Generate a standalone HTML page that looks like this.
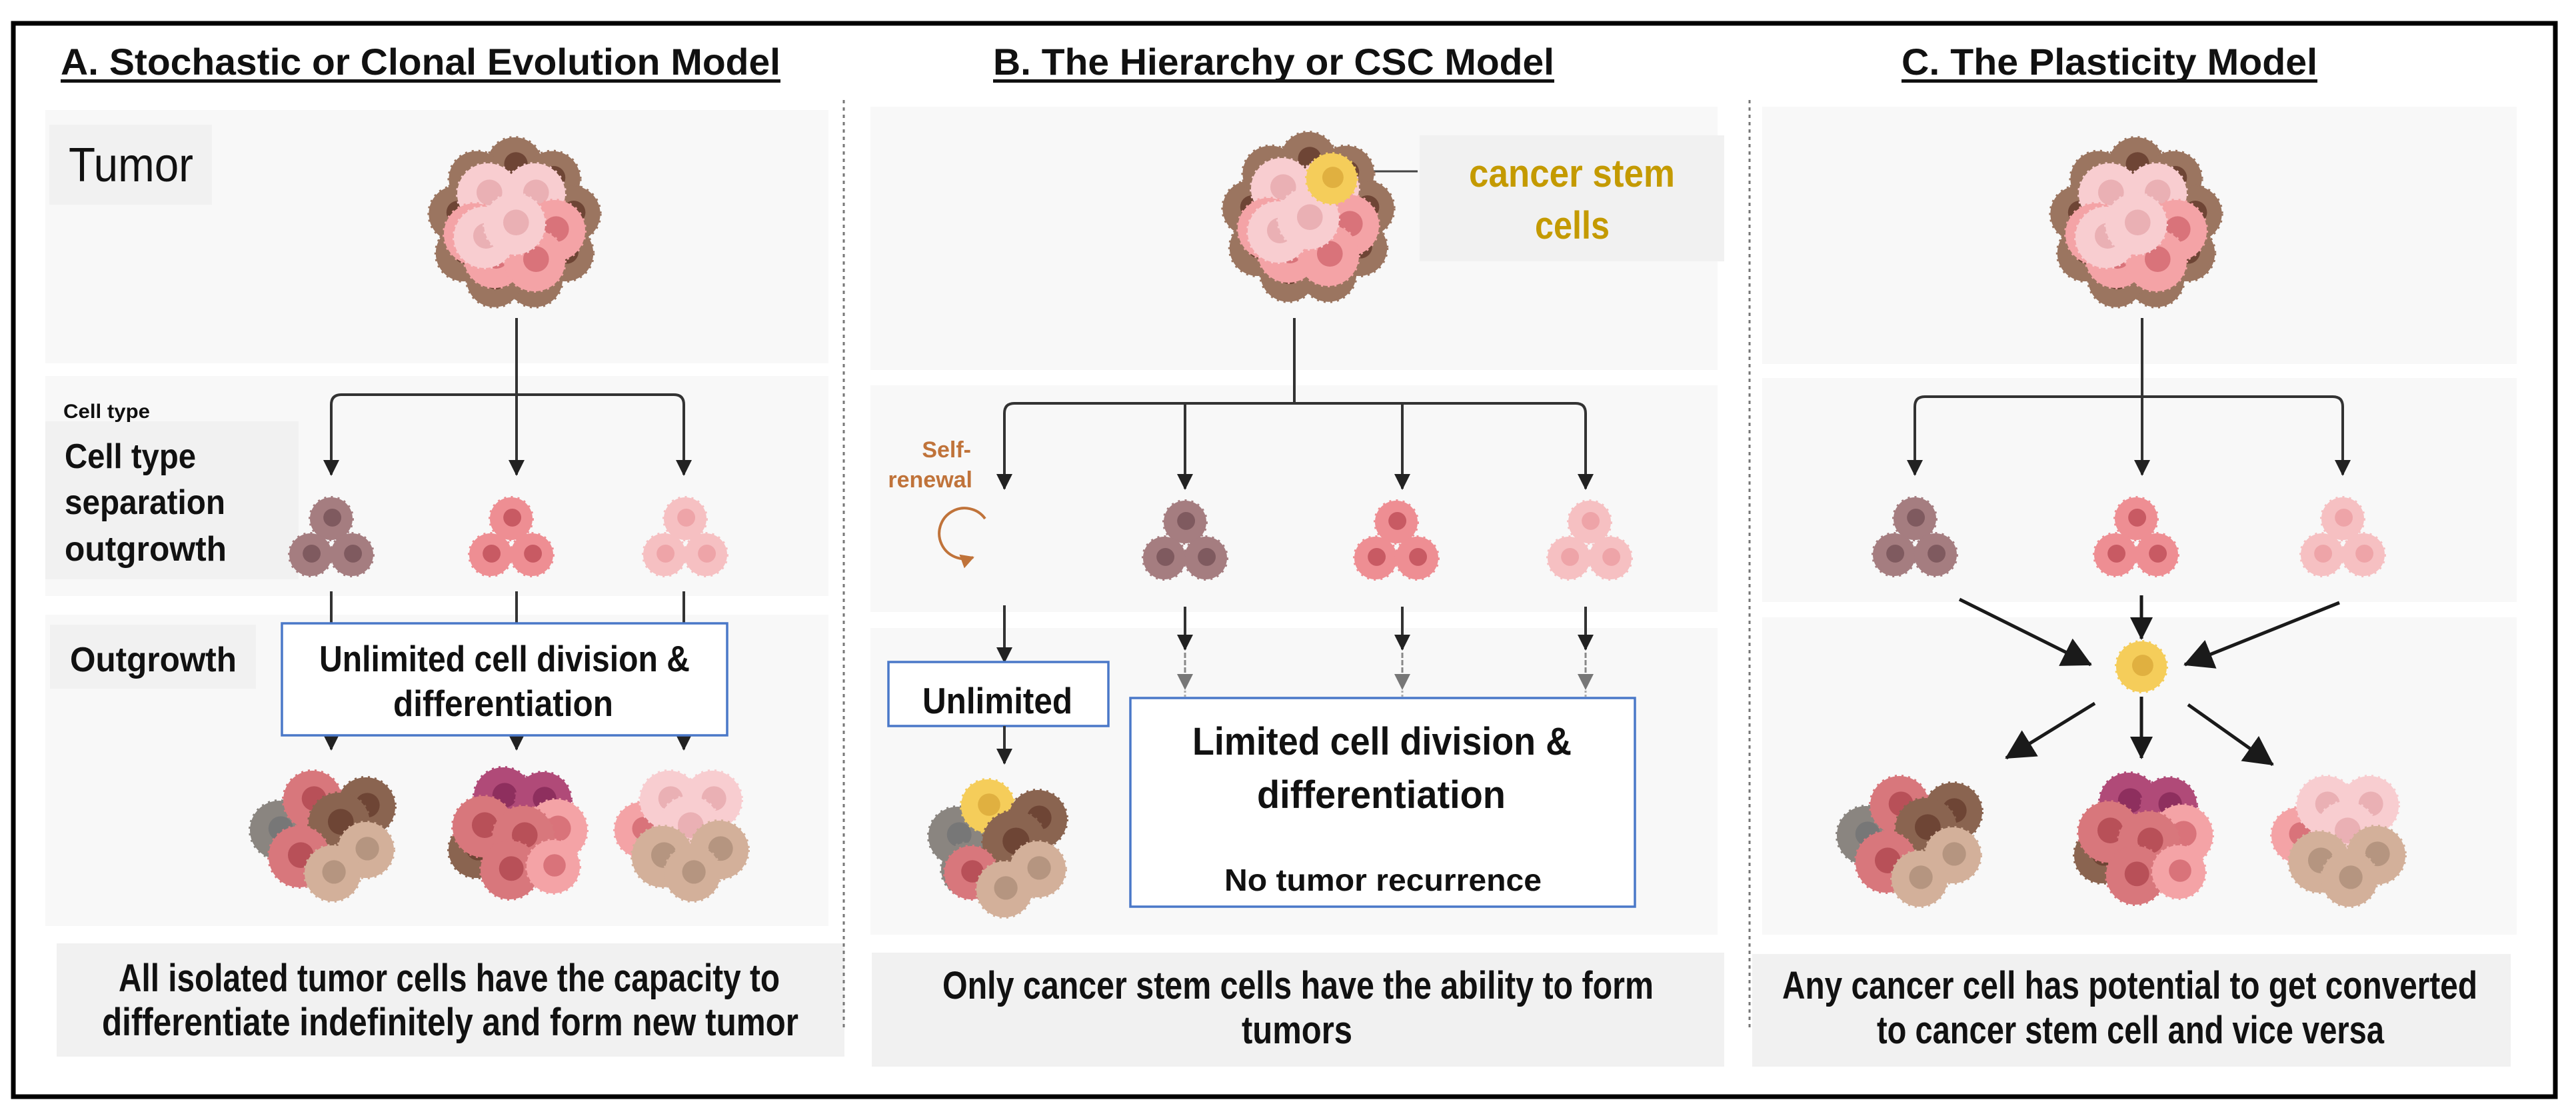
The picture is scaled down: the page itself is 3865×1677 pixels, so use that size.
<!DOCTYPE html>
<html><head><meta charset="utf-8">
<style>
html,body{margin:0;padding:0;background:#fff;}
svg{display:block;}
text{font-family:"Liberation Sans",sans-serif;font-weight:bold;fill:#111;}
</style></head>
<body>
<svg id="s" width="3865" height="1677" viewBox="0 0 3865 1677" xmlns="http://www.w3.org/2000/svg">
<defs>
<marker id="ah" markerUnits="userSpaceOnUse" markerWidth="26" markerHeight="24" refX="22" refY="12" orient="auto"><path d="M0,0 L24,12 L0,24 z" fill="#222"/></marker>
<marker id="ahg" markerUnits="userSpaceOnUse" markerWidth="26" markerHeight="24" refX="22" refY="12" orient="auto"><path d="M0,0 L24,12 L0,24 z" fill="#777"/></marker>
<marker id="big" markerUnits="userSpaceOnUse" markerWidth="46" markerHeight="46" refX="42" refY="23" orient="auto"><path d="M0,0 L44,23 L0,46 z" fill="#1a1a1a"/></marker>
<marker id="mid" markerUnits="userSpaceOnUse" markerWidth="36" markerHeight="34" refX="32" refY="17" orient="auto"><path d="M0,0 L34,17 L0,34 z" fill="#1a1a1a"/></marker>
<marker id="or" markerUnits="userSpaceOnUse" markerWidth="22" markerHeight="22" refX="18" refY="11" orient="auto"><path d="M0,0 L20,11 L0,22 z" fill="#c0733a"/></marker>
</defs>
<rect x="0" y="0" width="3865" height="1677" fill="#fff"/>
<rect x="20" y="35" width="3814" height="1610" fill="none" stroke="#000" stroke-width="7"/>

<rect x="68" y="165" width="1175" height="380" fill="#f8f8f8"/>
<rect x="68" y="564" width="1175" height="330" fill="#f8f8f8"/>
<rect x="68" y="922" width="1175" height="467" fill="#f8f8f8"/>
<rect x="85" y="1415" width="1182" height="170" fill="#f1f1f1"/>
<rect x="74" y="187" width="244" height="120" fill="#f1f1f1"/>
<rect x="68" y="632" width="380" height="237" fill="#f1f1f1"/>
<rect x="75" y="937" width="309" height="96" fill="#f1f1f1"/>

<rect x="1306" y="160" width="1271" height="395" fill="#f8f8f8"/>
<rect x="1306" y="578" width="1271" height="340" fill="#f8f8f8"/>
<rect x="1306" y="942" width="1271" height="460" fill="#f8f8f8"/>
<rect x="1308" y="1429" width="1279" height="171" fill="#f1f1f1"/>
<rect x="2130" y="203" width="457" height="189" fill="#f1f1f1"/>

<rect x="2644" y="160" width="1132" height="386" fill="#f8f8f8"/>
<rect x="2644" y="567" width="1132" height="336" fill="#f8f8f8"/>
<rect x="2644" y="926" width="1132" height="476" fill="#f8f8f8"/>
<rect x="2629" y="1431" width="1138" height="169" fill="#f1f1f1"/>

<line x1="1266" y1="150" x2="1266" y2="1541" stroke="#777" stroke-width="3" stroke-dasharray="5 6"/>
<line x1="2625" y1="150" x2="2625" y2="1541" stroke="#777" stroke-width="3" stroke-dasharray="5 6"/>

<text x="91" y="112" font-size="56" textLength="1080" lengthAdjust="spacingAndGlyphs">A. Stochastic or Clonal Evolution Model</text>
<rect x="91" y="119" width="1080" height="5" fill="#111"/>
<text x="1490" y="112" font-size="56" textLength="842" lengthAdjust="spacingAndGlyphs">B. The Hierarchy or CSC Model</text>
<rect x="1490" y="119" width="842" height="5" fill="#111"/>
<text x="2853" y="112" font-size="56" textLength="624" lengthAdjust="spacingAndGlyphs">C. The Plasticity Model</text>
<rect x="2853" y="119" width="624" height="5" fill="#111"/>

<text x="103" y="272" font-size="72" style="font-weight:normal" textLength="187" lengthAdjust="spacingAndGlyphs">Tumor</text>
<text x="95" y="627" font-size="30" textLength="130" lengthAdjust="spacingAndGlyphs">Cell type</text>
<text x="97" y="702" font-size="52" textLength="197" lengthAdjust="spacingAndGlyphs">Cell type</text>
<text x="97" y="771" font-size="52" textLength="241" lengthAdjust="spacingAndGlyphs">separation</text>
<text x="97" y="841" font-size="52" textLength="243" lengthAdjust="spacingAndGlyphs">outgrowth</text>
<text x="105" y="1007" font-size="52" textLength="250" lengthAdjust="spacingAndGlyphs">Outgrowth</text>

<line x1="775" y1="477" x2="775" y2="712" stroke="#333" stroke-width="4" marker-end="url(#ah)"/>
<path d="M497,712 V607 Q497,592 512,592 H1011 Q1026,592 1026,607 V712" fill="none" stroke="#333" stroke-width="4"/>
<line x1="497" y1="700" x2="497" y2="712" stroke="#333" stroke-width="4" marker-end="url(#ah)"/>
<line x1="1026" y1="700" x2="1026" y2="712" stroke="#333" stroke-width="4" marker-end="url(#ah)"/>
<line x1="497" y1="887" x2="497" y2="935" stroke="#333" stroke-width="4"/>
<line x1="775" y1="887" x2="775" y2="935" stroke="#333" stroke-width="4"/>
<line x1="1026" y1="887" x2="1026" y2="935" stroke="#333" stroke-width="4"/>
<line x1="497" y1="1103" x2="497" y2="1124" stroke="#333" stroke-width="4" marker-end="url(#ah)"/>
<line x1="775" y1="1103" x2="775" y2="1124" stroke="#333" stroke-width="4" marker-end="url(#ah)"/>
<line x1="1026" y1="1103" x2="1026" y2="1124" stroke="#333" stroke-width="4" marker-end="url(#ah)"/>
<rect x="423" y="935" width="668" height="168" fill="#fff" stroke="#4a78c8" stroke-width="3.5"/>
<text x="479" y="1007" font-size="55" textLength="556" lengthAdjust="spacingAndGlyphs">Unlimited cell division &amp;</text>
<text x="590" y="1074" font-size="55" textLength="330" lengthAdjust="spacingAndGlyphs">differentiation</text>
<text x="178" y="1487" font-size="58" textLength="992" lengthAdjust="spacingAndGlyphs">All isolated tumor cells have the capacity to</text>
<text x="153" y="1553" font-size="58" textLength="1045" lengthAdjust="spacingAndGlyphs">differentiate indefinitely and form new tumor</text>

<line x1="2012" y1="257" x2="2127" y2="257" stroke="#444" stroke-width="3"/>
<line x1="1942" y1="477" x2="1942" y2="605" stroke="#333" stroke-width="4"/>
<path d="M1507,733 V620 Q1507,605 1522,605 H2364 Q2379,605 2379,620 V733" fill="none" stroke="#333" stroke-width="4"/>
<line x1="1507" y1="720" x2="1507" y2="733" stroke="#333" stroke-width="4" marker-end="url(#ah)"/>
<line x1="1778" y1="605" x2="1778" y2="733" stroke="#333" stroke-width="4" marker-end="url(#ah)"/>
<line x1="2104" y1="605" x2="2104" y2="733" stroke="#333" stroke-width="4" marker-end="url(#ah)"/>
<line x1="2379" y1="720" x2="2379" y2="733" stroke="#333" stroke-width="4" marker-end="url(#ah)"/>
<text x="1457" y="686" font-size="34" style="fill:#c0733a" text-anchor="end">Self-</text>
<text x="1459" y="731" font-size="34" style="fill:#c0733a" text-anchor="end">renewal</text>
<path d="M1478,778 A38,38 0 1 0 1460,836" fill="none" stroke="#c0733a" stroke-width="4" marker-end="url(#or)"/>
<line x1="1507" y1="908" x2="1507" y2="993" stroke="#333" stroke-width="4" marker-end="url(#ah)"/>
<rect x="1333" y="993" width="330" height="96" fill="#fff" stroke="#4a78c8" stroke-width="3.5"/>
<text x="1384" y="1070" font-size="55" textLength="225" lengthAdjust="spacingAndGlyphs">Unlimited</text>
<line x1="1507" y1="1089" x2="1507" y2="1145" stroke="#333" stroke-width="4" marker-end="url(#ah)"/>
<g id="bcols"></g>
<rect x="1696" y="1047" width="757" height="313" fill="#fff" stroke="#4a78c8" stroke-width="3.5"/>
<text x="1789" y="1132" font-size="58" textLength="569" lengthAdjust="spacingAndGlyphs">Limited cell division &amp;</text>
<text x="1886" y="1212" font-size="58" textLength="373" lengthAdjust="spacingAndGlyphs">differentiation</text>
<text x="1837" y="1336" font-size="46" textLength="476" lengthAdjust="spacingAndGlyphs">No tumor recurrence</text>
<text x="2204" y="280" font-size="58" style="fill:#c49a00" textLength="309" lengthAdjust="spacingAndGlyphs">cancer stem</text>
<text x="2303" y="358" font-size="58" style="fill:#c49a00" textLength="112" lengthAdjust="spacingAndGlyphs">cells</text>
<text x="1414" y="1498" font-size="58" textLength="1067" lengthAdjust="spacingAndGlyphs">Only  cancer stem cells have the ability to form</text>
<text x="1863" y="1565" font-size="58" textLength="166" lengthAdjust="spacingAndGlyphs">tumors</text>

<line x1="3214" y1="477" x2="3214" y2="712" stroke="#333" stroke-width="4" marker-end="url(#ah)"/>
<path d="M2873,712 V610 Q2873,595 2888,595 H3500 Q3515,595 3515,610 V712" fill="none" stroke="#333" stroke-width="4"/>
<line x1="2873" y1="700" x2="2873" y2="712" stroke="#333" stroke-width="4" marker-end="url(#ah)"/>
<line x1="3515" y1="700" x2="3515" y2="712" stroke="#333" stroke-width="4" marker-end="url(#ah)"/>
<line x1="2940" y1="899" x2="3137" y2="997" stroke="#1a1a1a" stroke-width="5" marker-end="url(#big)"/>
<line x1="3213" y1="893" x2="3213" y2="958" stroke="#1a1a1a" stroke-width="5" marker-end="url(#mid)"/>
<line x1="3510" y1="904" x2="3278" y2="997" stroke="#1a1a1a" stroke-width="5" marker-end="url(#big)"/>
<line x1="3143" y1="1055" x2="3010" y2="1137" stroke="#1a1a1a" stroke-width="5" marker-end="url(#big)"/>
<line x1="3213" y1="1045" x2="3213" y2="1137" stroke="#1a1a1a" stroke-width="5" marker-end="url(#mid)"/>
<line x1="3283" y1="1057" x2="3410" y2="1147" stroke="#1a1a1a" stroke-width="5" marker-end="url(#big)"/>
<text x="2674" y="1498" font-size="58" textLength="1043" lengthAdjust="spacingAndGlyphs">Any cancer cell has potential to get converted</text>
<text x="2816" y="1565" font-size="58" textLength="761" lengthAdjust="spacingAndGlyphs">to cancer stem cell and vice versa</text>

<g id="cells"></g>
</svg>
<script>
(function(){
var NS="http://www.w3.org/2000/svg";
var g=document.getElementById("cells");
var bc=document.getElementById("bcols");
function el(p,t,a){var e=document.createElementNS(NS,t);for(var k in a)e.setAttribute(k,a[k]);p.appendChild(e);return e;}
function cell(x,y,r,f,n){
  el(g,"circle",{cx:x,cy:y,r:r,fill:f,stroke:f,"stroke-width":4,"stroke-dasharray":"3 7"});
  el(g,"circle",{cx:x+r*0.05,cy:y-r*0.05,r:r*0.42,fill:n});
}
var BR="#9b7560",BRN="#6e4535",PK="#f4a3a6",PKN="#d9737a",LP="#f8cdd0",LPN="#eab0b4";
function tumor(cx,cy,csc){
  var i,a;
  for(i=0;i<9;i++){a=i/9*2*Math.PI-Math.PI/2;cell(cx+Math.cos(a)*88,cy+Math.sin(a)*88,42,BR,BRN);}
  var pos=[[-40,-45,LP,LPN],[30,-45,LP,LPN],[60,10,PK,PKN],[-60,15,PK,PKN],[-30,50,PK,PKN],[30,55,PK,PKN],[-45,20,LP,LPN],[0,0,LP,LPN]];
  for(i=0;i<pos.length;i++)cell(cx+pos[i][0],cy+pos[i][1],46,pos[i][2],pos[i][3]);
  if(csc)cell(cx+35,cy-60,38,"#f5cd5a","#e0b040");
}
tumor(772,336,false);tumor(1963,328,true);tumor(3205,336,false);
function trip(cx,cy,f,n){cell(cx,cy-32,32,f,n);cell(cx-31,cy+22,32,f,n);cell(cx+31,cy+22,32,f,n);}
var M=["#a57d80","#7f5a5f"],P=["#ee8e93","#c85a63"],L=["#f6c0c2","#eea4a8"];
trip(497,810,M[0],M[1]);trip(767,810,P[0],P[1]);trip(1028,810,L[0],L[1]);
trip(1778,815,M[0],M[1]);trip(2095,815,P[0],P[1]);trip(2385,815,L[0],L[1]);
trip(2873,810,M[0],M[1]);trip(3205,810,P[0],P[1]);trip(3515,810,L[0],L[1]);
var GR="#8a8580",RD="#d8777c",TN="#d3b09a",TNN="#b59580",MG="#b04a78",BRD="#8a6450";
function mix1(cx,cy){cell(cx-70,cy+0,44,GR,"#777");cell(cx+60,cy-35,44,BRD,BRN);cell(cx-20,cy-45,44,RD,"#b85058");cell(cx+20,cy-10,46,BRD,BRN);cell(cx+60,cy+30,42,TN,TNN);cell(cx-40,cy+40,46,RD,"#b85058");cell(cx+10,cy+65,42,TN,TNN);}
function mix2(cx,cy){cell(cx-20,cy-50,44,MG,"#8e2f5e");cell(cx+40,cy-45,42,MG,"#8e2f5e");cell(cx-60,cy+30,42,BRD,BRN);cell(cx+60,cy+0,46,PK,PKN);cell(cx-50,cy-5,46,RD,"#b85058");cell(cx+10,cy+10,46,RD,"#b85058");cell(cx-10,cy+60,44,RD,"#b85058");cell(cx+55,cy+55,40,PK,PKN);}
function mix3(cx,cy){cell(cx-60,cy+0,42,PK,PKN);cell(cx-20,cy-45,44,LP,LPN);cell(cx+45,cy-45,44,LP,LPN);cell(cx+10,cy-5,46,LP,LPN);cell(cx-30,cy+40,46,TN,TNN);cell(cx+55,cy+30,44,TN,TNN);cell(cx+15,cy+65,42,TN,TNN);}
mix1(489,1245);mix2(775,1245);mix3(1024,1245);
mix1(2870,1253);mix2(3214,1253);mix3(3510,1253);
(function(cx,cy){cell(cx-65,cy-10,44,GR,"#777");cell(cx-50,cy+40,40,GR,"#777");cell(cx-20,cy-55,40,"#f5cd5a","#e0b040");cell(cx+55,cy-35,44,BRD,BRN);cell(cx+20,cy+0,48,BRD,BRN);cell(cx+55,cy+40,42,TN,TNN);cell(cx-45,cy+45,40,RD,"#b85058");cell(cx+5,cy+70,42,TN,TNN);})(1502,1264);
cell(3213,1000,38,"#f5cd5a","#e0b040");
[1778,2104,2379].forEach(function(x){
  el(bc,"line",{x1:x,y1:910,x2:x,y2:974,stroke:"#333","stroke-width":4,"marker-end":"url(#ah)"});
  el(bc,"line",{x1:x,y1:979,x2:x,y2:1033,stroke:"#888","stroke-width":3,"stroke-dasharray":"8 3","marker-end":"url(#ahg)"});
  el(bc,"line",{x1:x,y1:1036,x2:x,y2:1047,stroke:"#aaa","stroke-width":3,"stroke-dasharray":"3 3"});
});
})();
</script>
</body></html>
